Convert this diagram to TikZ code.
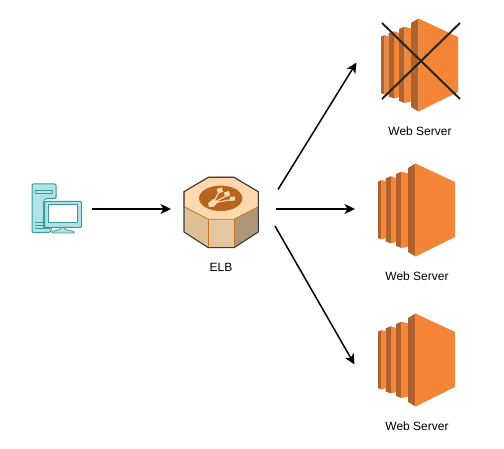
\documentclass[tikz,border=0pt]{standalone}
\usepackage{fontspec}
\setmainfont{Liberation Sans}
\usetikzlibrary{arrows.meta}
\definecolor{srvlight}{HTML}{F58536}
\definecolor{srvdark}{HTML}{B0612C}
\definecolor{pcfill}{HTML}{B0E3E6}
\definecolor{pcline}{HTML}{3A9A9C}
\definecolor{elbtop}{HTML}{FFD8AE}
\definecolor{elbleft}{HTML}{DFC096}
\definecolor{elbmid}{HTML}{E6C6A0}
\definecolor{elbright}{HTML}{AD9678}
\definecolor{elbedge}{HTML}{C8761E}
\definecolor{elbdisk}{HTML}{B5651D}
\definecolor{elbout}{HTML}{3C3C3C}
\tikzset{
  x=1pt,y=-1pt,
  conn/.style={line width=1.5pt,-{Stealth[length=10.5pt,width=10pt,inset=3pt]},black},
  lbl/.style={font=\fontsize{12}{14}\selectfont,inner sep=0pt,text=black},
  anchorbox/.style={inner sep=0pt,minimum size=0pt},
  server/.pic={
    % strip 1
    \fill[srvdark] (-30,-28.3) -- (-26.3,-30) -- (-26.3,29.5) -- (-30,28) -- cycle;
    \fill[srvlight] (-26.3,-30) -- (-22.3,-28.5) -- (-22.3,28) -- (-26.3,29.5) -- cycle;
    % strip 2
    \fill[srvdark] (-22.3,-31.7) -- (-17,-33.7) -- (-17,33.5) -- (-22.3,31.5) -- cycle;
    \fill[srvlight] (-17,-33.7) -- (-12,-32) -- (-12,32) -- (-17,33.5) -- cycle;
    % strip 3
    \fill[srvdark] (-12,-36) -- (-6.3,-38.3) -- (-6.3,38) -- (-12,36) -- cycle;
    \fill[srvlight] (-6.3,-38.3) -- (0,-36.5) -- (0,36.5) -- (-6.3,38) -- cycle;
    % main block
    \fill[srvdark] (0,-42) -- (7.5,-46.5) -- (7.5,46.5) -- (0,42) -- cycle;
    \fill[srvlight] (7.5,-46.5) -- (47,-28) -- (47,27) -- (7.5,46.5) -- cycle;
  }
}
\begin{document}
\begin{tikzpicture}
\useasboundingbox (0,0) rectangle (504,449);
\fill[white] (0,0) rectangle (504,449);

% client
\node[anchorbox] (client) at (56,208) {};
\draw[pcline,fill=pcfill,line width=1pt,rounded corners=1.2pt]
  (32,184) -- (56,184) -- (56,198.5) -- (46,198.5) -- (43.5,201) -- (43.5,228) -- (52,228) -- (50,232.5) -- (32,232.5) -- cycle;
\draw[pcline,fill=pcfill,line width=0.8pt,rounded corners=0.8pt] (35,190.5) rectangle (52.5,193.5);
\draw[pcline,line width=0.8pt] (35,222) -- (43.5,222) (35,225.5) -- (43.5,225.5) (35,228.5) -- (50,228.5);
\draw[pcline,fill=pcfill,line width=1pt,rounded corners=1.2pt] (44.5,201.5) rectangle (81.5,227.5);
\draw[pcline,fill=white,line width=1pt] (48.5,205) rectangle (77.5,222.5);
\draw[pcline,fill=pcfill,line width=0.8pt,rounded corners=0.8pt]
  (60,227.5) -- (65,227.5) -- (65,229.5) -- (74,231.5) -- (74,233) -- (52,233) -- (52,231.5) -- (60,229.5) -- cycle;

% ELB
\node[anchorbox] (elb) at (221,212) {};
\fill[elbleft] (184,191.7) -- (208.3,219.3) -- (208.3,247.7) -- (184,232) -- cycle;
\fill[elbmid] (208.3,219.3) -- (234,219.3) -- (234,247.7) -- (208.3,247.7) -- cycle;
\fill[elbright] (234,219.3) -- (258.3,206.7) -- (258.3,232) -- (234,247.7) -- cycle;
\draw[elbedge,fill=elbtop,line width=0.8pt]
  (208.3,177.3) -- (234,177.3) -- (258.3,191.7) -- (258.3,206.7) -- (234,219.3) -- (208.3,219.3) -- (184,206.7) -- (184,191.7) -- cycle;
\draw[elbedge,line width=0.8pt] (208.3,219.3) -- (208.3,247.7) (234,219.3) -- (234,247.7);
\draw[elbout,line width=1.1pt,line join=round]
  (208.3,177.3) -- (234,177.3) -- (258.3,191.7) -- (258.3,232) -- (234,247.7) -- (208.3,247.7) -- (184,232) -- (184,191.7) -- cycle;
\fill[elbdisk] (220.7,198.3) ellipse [x radius=21.7,y radius=12.7];
\begin{scope}[elbtop]
  \draw[line width=1.2pt] (213,203) -- (219,192) (213,203) -- (226,196) (213,203) -- (232,199.5);
  \fill (216.5,189) -- (222,187.5) -- (223,192) -- (218,193.5) -- cycle;
  \fill (224,192.5) -- (229,191) -- (230,195.5) -- (225,197) -- cycle;
  \fill (230,197) -- (235,196.5) -- (235,200.5) -- (230,201) -- cycle;
  \fill (208,203.5) -- (213,199) -- (218,202) -- (213.5,207) -- (209,207) -- cycle;
\end{scope}

% servers
\pic at (411,65) {server};
\pic at (408,210) {server};
\pic at (408,360) {server};
\node[anchorbox] (srvA) at (420,65) {};
\node[anchorbox] (srvB) at (417,210) {};
\node[anchorbox] (srvC) at (417,360) {};

% cross
\coordinate (xa) at (382,23);
\coordinate (xb) at (460,99);
\coordinate (xc) at (460,23);
\coordinate (xd) at (382,99);
\draw[line width=2pt,color=black!85] (xa) -- (xb);
\draw[line width=2pt,color=black!85] (xc) -- (xd);

% labels
\node[lbl] (elbl) at (221,267) {ELB};
\node[lbl] (srvAl) at (420,131) {Web Server};
\node[lbl] (srvBl) at (417,276) {Web Server};
\node[lbl] (srvCl) at (417,426) {Web Server};

% connectors
\coordinate (c1) at (92,209);
\coordinate (e1) at (171,209);
\coordinate (o1) at (278,189.5);
\coordinate (a1) at (356.5,62.5);
\coordinate (o2) at (276,209);
\coordinate (a2) at (355,209);
\coordinate (o3) at (275,226);
\coordinate (a3) at (354.5,364.5);
\draw[conn] (c1) -- (e1);
\draw[conn] (o1) -- (a1);
\draw[conn] (o2) -- (a2);
\draw[conn] (o3) -- (a3);
\end{tikzpicture}
\end{document}
